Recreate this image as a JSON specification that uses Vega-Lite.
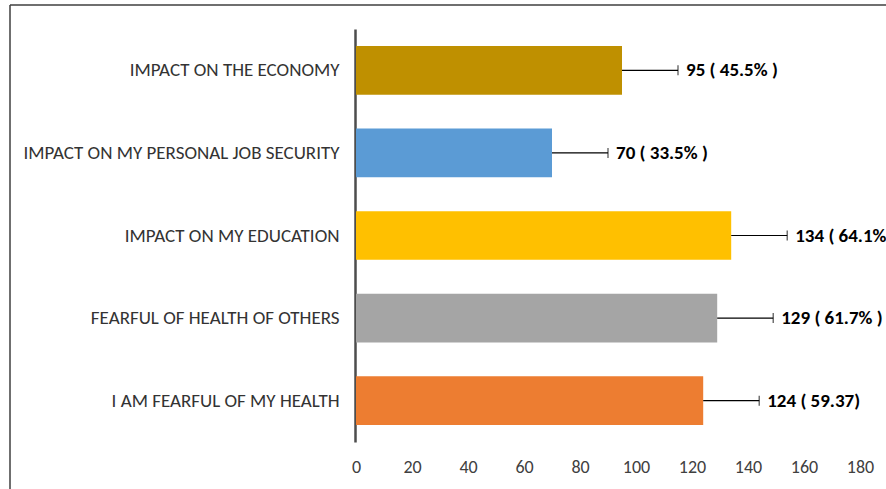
{
  "$schema": "https://vega.github.io/schema/vega-lite/v6.json",
  "width": 876,
  "height": 484,
  "autosize": {"type": "none"},
  "padding": {"left": 10, "top": 5, "right": 0, "bottom": 0},
  "background": "white",
  "config": {
    "view": {"stroke": "#404040", "strokeWidth": 1.5, "strokeDash": [876, 1360, 484, 0]},
    "font": "Carlito, Lato, sans-serif"
  },
  "data": {
    "values": [
      {"cat": "IMPACT ON THE ECONOMY", "value": 95, "hi": 115, "label": "95 ( 45.5% )"},
      {"cat": "IMPACT ON MY PERSONAL JOB SECURITY", "value": 70, "hi": 90, "label": "70 ( 33.5% )"},
      {"cat": "IMPACT ON MY EDUCATION", "value": 134, "hi": 154, "label": "134 ( 64.1% )"},
      {"cat": "FEARFUL OF HEALTH OF OTHERS", "value": 129, "hi": 149, "label": "129 ( 61.7% )"},
      {"cat": "I AM FEARFUL OF MY HEALTH", "value": 124, "hi": 144, "label": "124 ( 59.37)"}
    ]
  },
  "encoding": {
    "y": {
      "field": "cat",
      "type": "nominal",
      "sort": null,
      "scale": {"range": [24, 437], "paddingInner": 0.41, "paddingOuter": 0.205},
      "axis": {
        "title": null,
        "offset": -345,
        "domainColor": "#4d4d4d",
        "domainWidth": 2.5,
        "ticks": false,
        "grid": false,
        "labelPadding": 16,
        "labelFontSize": 19,
        "labelColor": "#333333",
        "labelLimit": 0
      }
    }
  },
  "layer": [
    {
      "mark": {"type": "bar"},
      "encoding": {
        "x": {
          "field": "value",
          "type": "quantitative",
          "title": null,
          "scale": {"domain": [0, 180], "range": [346, 850]},
          "axis": {
            "title": null,
            "values": [0, 20, 40, 60, 80, 100, 120, 140, 160, 180],
            "domain": false,
            "ticks": false,
            "grid": false,
            "labelFlush": false,
            "offset": -37,
            "labelPadding": 6,
            "labelFontSize": 18,
            "labelColor": "#404040"
          }
        },
        "color": {
          "field": "cat",
          "type": "nominal",
          "scale": {
            "domain": ["IMPACT ON THE ECONOMY", "IMPACT ON MY PERSONAL JOB SECURITY", "IMPACT ON MY EDUCATION", "FEARFUL OF HEALTH OF OTHERS", "I AM FEARFUL OF MY HEALTH"],
            "range": ["#BF9000", "#5B9BD5", "#FFC000", "#A5A5A5", "#ED7D31"]
          },
          "legend": null
        }
      }
    },
    {
      "mark": {"type": "rule", "color": "black", "strokeWidth": 1.2},
      "encoding": {
        "x": {"field": "value", "type": "quantitative", "title": null},
        "x2": {"field": "hi"}
      }
    },
    {
      "mark": {"type": "tick", "color": "black", "thickness": 1.2, "size": 10, "orient": "vertical"},
      "encoding": {
        "x": {"field": "hi", "type": "quantitative", "title": null}
      }
    },
    {
      "mark": {"type": "text", "align": "left", "baseline": "middle", "dx": 8, "fontWeight": "bold", "fontSize": 19, "color": "black"},
      "encoding": {
        "x": {"field": "hi", "type": "quantitative", "title": null},
        "text": {"field": "label"}
      }
    }
  ]
}
